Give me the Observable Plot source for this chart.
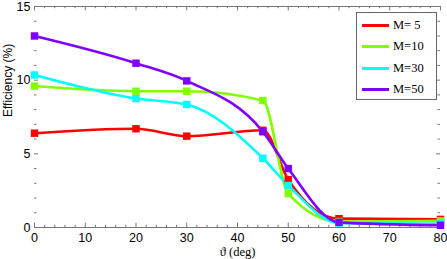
<!DOCTYPE html>
<html><head><meta charset="utf-8">
<script src="https://cdn.jsdelivr.net/npm/d3@7"></script>
<script src="https://cdn.jsdelivr.net/npm/@observablehq/plot@0.6"></script>
<style>
body{margin:0;background:#fff;}
#wrap{position:relative;width:447px;height:259px;}
#legend{position:absolute;left:356px;top:12px;width:81px;height:88px;border:1px solid #666;background:#fff;font-family:"Liberation Serif",serif;font-size:12.5px;color:#000;box-sizing:border-box;}
.row{position:absolute;left:5px;height:14px;display:flex;align-items:center;}
.row span.l{display:inline-block;width:27px;height:3px;margin-right:4px;}
</style>
</head><body>
<div id="wrap"><div id="chart"></div><div id="legend"></div></div>
<script>
const theta = [0, 20, 30, 45, 50, 60, 80];
const labels = ["M= 5", "M=10", "M=30", "M=50"];
const colors = ["#ff0000", "#80ff00", "#00ffff", "#8000ff"];
const m5  = [6.4, 6.7, 6.2, 6.6, 3.25, 0.6, 0.55];
const m10 = [9.6, 9.25, 9.25, 8.62, 2.3, 0.4, 0.45];
const m30 = [10.35, 8.75, 8.35, 4.7, 2.85, 0.3, 0.25];
const m50 = [13.0, 11.15, 9.95, 6.5, 4.0, 0.35, 0.15];
const xTicks = [0, 10, 20, 30, 40, 50, 60, 70, 80];
const yTicks = [0, 5, 10, 15];

const series = [m5, m10, m30, m50];
const data = [];
series.forEach((vals, i) => vals.forEach((v, j) => data.push({x: theta[j], y: v, s: labels[i]})));

const xMinor = d3.range(0, 81, 2).filter(v => v % 10 !== 0);
const yMinor = d3.range(0, 15.01, 1).filter(v => v % 5 !== 0);
const tickCol = "#777";

const chart = Plot.plot({
  width: 447, height: 259,
  marginLeft: 34, marginRight: 7, marginTop: 6, marginBottom: 32,
  x: {domain: [0, 80]},
  y: {domain: [0, 15]},
  color: {domain: labels, range: colors},
  style: {fontFamily: "'Liberation Sans', sans-serif", background: "#fff"},
  marks: [
    Plot.ruleY([0, 15], {stroke: tickCol, strokeWidth: 1}),
    // major ticks bottom/top
    Plot.ruleX(xTicks, {y1: 0, y2: 0.3, stroke: tickCol}),
    Plot.ruleX(xTicks, {y1: 15, y2: 14.7, stroke: tickCol}),
    Plot.ruleX(xMinor, {y1: 0, y2: 0.15, stroke: tickCol}),
    Plot.ruleX(xMinor, {y1: 15, y2: 14.85, stroke: tickCol}),
    // y ticks left/right
    Plot.ruleY(yTicks, {x1: 0, x2: 0.8, stroke: tickCol}),
    Plot.ruleY(yTicks, {x1: 80, x2: 79.2, stroke: tickCol}),
    Plot.ruleY(yMinor, {x1: 0, x2: 0.5, stroke: tickCol}),
    Plot.ruleY(yMinor, {x1: 80, x2: 79.5, stroke: tickCol}),
    Plot.line(data, {x: "x", y: "y", z: "s", stroke: "s", strokeWidth: 2.6, curve: "monotone-x"}),
    Plot.dot(data, {x: "x", y: "y", fill: "s", symbol: "square", r: 4.2}),
    Plot.axisX(xTicks, {tickSize: 0, tickPadding: 6, fontSize: 12.5, fill: "#000", label: null}),
    Plot.axisY(yTicks, {tickSize: 0, tickPadding: 4, fontSize: 12.5, fill: "#000", label: null}),
    Plot.text(["ϑ (deg)"], {frameAnchor: "bottom", dy: 28, fontFamily: "'Liberation Serif', serif", fontSize: 12.5, fill: "#000"}),
    Plot.text(["Efficiency (%)"], {frameAnchor: "left", dx: -26, rotate: -90, fontSize: 12, fill: "#000"})
  ]
});
document.getElementById("chart").appendChild(chart);

const leg = document.getElementById("legend");
labels.forEach((l, i) => {
  const r = document.createElement("div");
  r.className = "row";
  r.style.top = (5 + i * 21.5) + "px";
  r.innerHTML = `<span class="l" style="background:${colors[i]}"></span><span>${l}</span>`;
  leg.appendChild(r);
});
</script>
</body></html>
